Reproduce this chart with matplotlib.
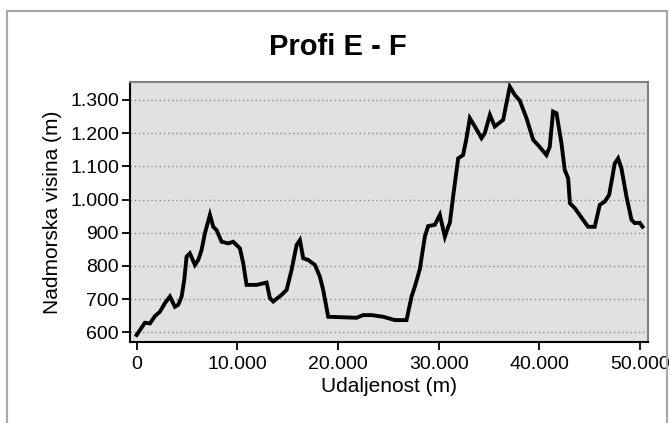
import matplotlib
matplotlib.use("Agg")
import matplotlib.pyplot as plt
import matplotlib.patches as patches
from matplotlib.ticker import FuncFormatter

# profile
udaljenost = [
    0, 820, 1320, 1820, 2310, 2810, 3310, 3800, 4130, 4470, 4730, 4960,
    5290, 5790, 6120, 6450, 6780, 7280, 7610, 7940, 8440, 9100, 9590,
    10260, 10590, 10920, 11920, 12910, 13240, 13570, 14400, 14900, 15390,
    15890, 16220, 16550, 17040, 17710, 18200, 18530, 19030, 21850, 22500,
    23340, 24490, 25650, 26810, 27310, 27640, 28130, 28630, 28960, 29620,
    30120, 30620, 30950, 31110, 31440, 31940, 32430, 32770, 33100, 33600,
    34260, 34590, 35090, 35580, 36410, 36740, 37070, 37570, 38060, 38730,
    39390, 39880, 40710, 41040, 41370, 41710, 42200, 42530, 42870, 43040,
    43530, 44350, 44850, 45510, 46010, 46510, 46940, 47500, 47830, 48160,
    48660, 49160, 49490, 49980, 50250,
]
visina = [
    592, 629, 627, 649, 662, 688, 708, 677, 683, 708, 758, 828,
    838, 803, 818, 848, 898, 954, 918, 908, 873, 868, 873,
    853, 808, 743, 743, 750, 703, 693, 713, 728, 788,
    863, 878, 823, 818, 803, 768, 728, 647, 644, 652,
    652, 647, 637, 637, 708, 738, 790, 888, 920, 924,
    954, 888, 918, 929, 1009, 1124, 1134, 1185, 1245, 1220,
    1185, 1200, 1255, 1220, 1240, 1290, 1340, 1315, 1298, 1245,
    1180, 1164, 1134, 1159, 1265, 1260, 1170, 1089, 1064, 989,
    974, 939, 918, 918, 984, 994, 1014, 1109, 1124, 1094,
    1009, 939, 929, 930, 918,
]
x_ticks = [0, 10000, 20000, 30000, 40000, 50000]
y_ticks = [600, 700, 800, 900, 1000, 1100, 1200, 1300]

plt.rcParams["font.family"] = ["Liberation Sans", "DejaVu Sans"]


def _dot_thousands(v, pos):
    return f"{int(round(v)):,}".replace(",", ".")


fig = plt.figure(figsize=(6.7, 4.23), dpi=100)
fig.patch.set_facecolor("white")

# outer chart frame
fig.add_artist(
    patches.Rectangle(
        (7 / 670, -0.05), 660 / 670, 1.05 - 11 / 423,
        transform=fig.transFigure, facecolor="none",
        edgecolor="#a8a8a8", linewidth=1.6,
    )
)

ax = fig.add_axes([130 / 670, 1 - 342 / 423, 518 / 670, 260 / 423])
ax.set_facecolor("#e1e1e1")
ax.plot(udaljenost, visina, color="black", linewidth=2.8, solid_joinstyle="miter")

ax.set_xlim(-660, 50800)
ax.set_ylim(571, 1354)
ax.set_xticks(x_ticks)
ax.set_yticks(y_ticks)
ax.xaxis.set_major_formatter(FuncFormatter(_dot_thousands))
ax.yaxis.set_major_formatter(FuncFormatter(_dot_thousands))
ax.grid(axis="y", color="#8a8a8a", linestyle=(0, (1, 2)), linewidth=1.0)
ax.set_axisbelow(True)

for side in ("top", "right"):
    ax.spines[side].set_color("#808080")
    ax.spines[side].set_linewidth(1.5)
for side in ("left", "bottom"):
    ax.spines[side].set_color("black")
    ax.spines[side].set_linewidth(1.5)

ax.tick_params(direction="out", length=6, width=1.3, labelsize=14,
               colors="black", pad=4)
ax.tick_params(axis="y", pad=2)

ax.set_xlabel("Udaljenost (m)", fontsize=15, labelpad=3)
ax.set_ylabel("Nadmorska visina (m)", fontsize=15, labelpad=6)
fig.text(337.5 / 670, 1 - 47 / 423, "Profi E - F", fontsize=21,
         fontweight="bold", ha="center", va="center")

fig.savefig("out.png", dpi=100)
plt.close(fig)
